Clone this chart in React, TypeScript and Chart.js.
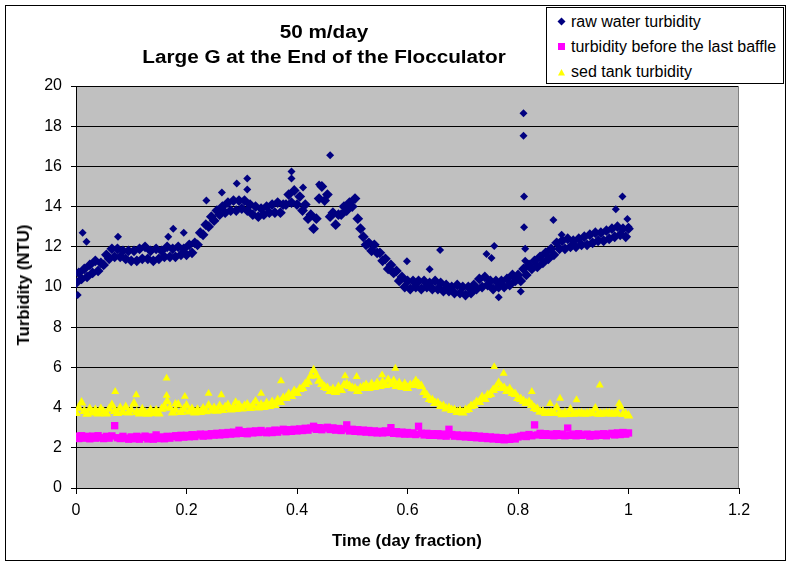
import React, { useEffect, useRef } from "react";
import { Chart, registerables } from "chart.js";

Chart.register(...registerables);

// time axis (day fraction), one reading every 0.005 day
const times: number[] = [
  0, 0.005, 0.01, 0.015, 0.02, 0.025, 0.03, 0.035, 0.04, 0.045,
  0.05, 0.055, 0.06, 0.065, 0.07, 0.075, 0.08, 0.085, 0.09, 0.095,
  0.1, 0.105, 0.11, 0.115, 0.12, 0.125, 0.13, 0.135, 0.14, 0.145,
  0.15, 0.155, 0.16, 0.165, 0.17, 0.175, 0.18, 0.185, 0.19, 0.195,
  0.2, 0.205, 0.21, 0.215, 0.22, 0.225, 0.23, 0.235, 0.24, 0.245,
  0.25, 0.255, 0.26, 0.265, 0.27, 0.275, 0.28, 0.285, 0.29, 0.295,
  0.3, 0.305, 0.31, 0.315, 0.32, 0.325, 0.33, 0.335, 0.34, 0.345,
  0.35, 0.355, 0.36, 0.365, 0.37, 0.375, 0.38, 0.385, 0.39, 0.395,
  0.4, 0.405, 0.41, 0.415, 0.42, 0.425, 0.43, 0.435, 0.44, 0.445,
  0.45, 0.455, 0.46, 0.465, 0.47, 0.475, 0.48, 0.485, 0.49, 0.495,
  0.5, 0.505, 0.51, 0.515, 0.52, 0.525, 0.53, 0.535, 0.54, 0.545,
  0.55, 0.555, 0.56, 0.565, 0.57, 0.575, 0.58, 0.585, 0.59, 0.595,
  0.6, 0.605, 0.61, 0.615, 0.62, 0.625, 0.63, 0.635, 0.64, 0.645,
  0.65, 0.655, 0.66, 0.665, 0.67, 0.675, 0.68, 0.685, 0.69, 0.695,
  0.7, 0.705, 0.71, 0.715, 0.72, 0.725, 0.73, 0.735, 0.74, 0.745,
  0.75, 0.755, 0.76, 0.765, 0.77, 0.775, 0.78, 0.785, 0.79, 0.795,
  0.8, 0.805, 0.81, 0.815, 0.82, 0.825, 0.83, 0.835, 0.84, 0.845,
  0.85, 0.855, 0.86, 0.865, 0.87, 0.875, 0.88, 0.885, 0.89, 0.895,
  0.9, 0.905, 0.91, 0.915, 0.92, 0.925, 0.93, 0.935, 0.94, 0.945,
  0.95, 0.955, 0.96, 0.965, 0.97, 0.975, 0.98, 0.985, 0.99, 0.995,
  1,
];

// raw water turbidity (NTU)
const rawTurbidity: number[] = [
  10.2, 10.7, 10.4, 10.9, 10.5, 11.1, 10.7, 11.3, 10.8, 11.2,
  11.1, 11.6, 11.4, 11.9, 11.5, 11.9, 11.5, 11.8, 11.4, 11.8,
  11.3, 11.8, 11.3, 11.9, 11.4, 12.0, 11.4, 11.8, 11.3, 11.9,
  11.4, 11.8, 11.5, 12.0, 11.5, 11.9, 11.5, 12.0, 11.6, 11.9,
  11.6, 12.1, 11.7, 12.2, 12.1, 12.7, 12.6, 13.1, 13.0, 13.5,
  13.3, 13.8, 13.6, 14.0, 13.7, 14.2, 13.8, 14.3, 13.8, 14.3,
  13.9, 14.3, 13.8, 14.1, 13.6, 14.0, 13.5, 13.9, 13.6, 14.0,
  13.7, 14.1, 13.7, 14.2, 13.7, 14.1, 14.1, 14.6, 14.2, 14.8,
  14.1, 14.5, 13.8, 14.1, 13.4, 13.6, 12.9, 13.4, 14.4, 15.0,
  14.3, 14.6, 13.5, 13.7, 13.1, 13.6, 13.6, 14.0, 13.8, 14.2,
  14.0, 14.4, 13.4, 12.9, 12.5, 12.1, 12.2, 11.8, 12.1, 11.7,
  11.7, 11.3, 11.4, 10.9, 11.1, 10.7, 10.8, 10.3, 10.5, 10.0,
  10.3, 9.9, 10.3, 10.0, 10.3, 9.9, 10.3, 10.0, 10.2, 9.9,
  10.3, 9.9, 10.2, 9.8, 10.1, 9.8, 10.0, 9.7, 10.1, 9.7,
  10.0, 9.6, 10.0, 9.7, 10.1, 9.9, 10.4, 10.0, 10.5, 10.1,
  10.3, 9.9, 10.3, 10.0, 10.3, 10.0, 10.4, 10.1, 10.6, 10.3,
  10.6, 10.3, 10.9, 10.6, 11.1, 10.9, 11.3, 11.0, 11.5, 11.2,
  11.7, 11.4, 11.9, 11.6, 12.2, 11.9, 12.3, 11.9, 12.4, 12.0,
  12.3, 12.0, 12.4, 12.1, 12.5, 12.1, 12.6, 12.2, 12.7, 12.3,
  12.7, 12.3, 12.8, 12.4, 12.9, 12.5, 13.0, 12.6, 12.9, 12.5,
  12.9,
];

// turbidity before the last baffle (NTU)
const baffleTurbidity: number[] = [
  2.58, 2.46, 2.6, 2.48, 2.57, 2.45, 2.58, 2.48, 2.6, 2.5,
  2.46, 2.57, 2.48, 2.59, 3.1, 2.5, 2.46, 2.57, 2.48, 2.43,
  2.54, 2.45, 2.57, 2.43, 2.52, 2.58, 2.44, 2.54, 2.43, 2.64,
  2.46, 2.54, 2.45, 2.57, 2.48, 2.56, 2.6, 2.5, 2.62, 2.53,
  2.62, 2.55, 2.65, 2.56, 2.64, 2.68, 2.58, 2.67, 2.6, 2.7,
  2.63, 2.72, 2.64, 2.74, 2.66, 2.76, 2.68, 2.78, 2.7, 2.87,
  2.72, 2.8, 2.7, 2.82, 2.74, 2.84, 2.76, 2.86, 2.78, 2.75,
  2.84, 2.76, 2.88, 2.78, 2.86, 2.92, 2.8, 2.9, 2.82, 2.92,
  2.84, 2.94, 2.86, 2.97, 2.88, 2.98, 3.07, 2.92, 3.0, 2.9,
  2.98, 3.02, 2.91, 2.99, 2.88, 2.96, 2.86, 2.94, 3.14, 2.84,
  2.92, 2.82, 2.9, 2.8, 2.88, 2.78, 2.86, 2.76, 2.84, 2.74,
  2.82, 2.74, 2.84, 2.76, 3.0, 2.72, 2.8, 2.7, 2.78, 2.68,
  2.76, 2.68, 2.74, 2.66, 3.07, 2.72, 2.64, 2.72, 2.62, 2.7,
  2.62, 2.7, 2.6, 2.68, 2.58, 2.92, 2.66, 2.58, 2.64, 2.56,
  2.62, 2.54, 2.62, 2.52, 2.6, 2.5, 2.58, 2.48, 2.56, 2.46,
  2.54, 2.44, 2.52, 2.42, 2.5, 2.4, 2.48, 2.42, 2.52, 2.44,
  2.54, 2.58, 2.62, 2.56, 2.66, 2.6, 3.14, 2.64, 2.72, 2.62,
  2.7, 2.62, 2.68, 2.6, 2.7, 2.62, 2.68, 2.6, 2.98, 2.62,
  2.68, 2.6, 2.7, 2.62, 2.64, 2.68, 2.58, 2.66, 2.6, 2.68,
  2.62, 2.7, 2.6, 2.68, 2.72, 2.64, 2.74, 2.66, 2.76, 2.68,
  2.74,
];

// sed tank turbidity (NTU)
const sedTurbidity: number[] = [
  3.72, 3.98, 4.25, 3.82, 3.68, 3.93, 3.75, 3.88, 3.7, 3.93,
  3.78, 3.7, 3.93, 4.12, 3.82, 3.72, 3.98, 3.77, 4.02, 3.75,
  3.88, 4.2, 3.77, 3.7, 3.91, 3.75, 3.68, 3.88, 3.72, 3.85,
  3.7, 3.93, 4.05, 4.3, 3.98, 3.75, 3.88, 4.15, 3.77, 3.91,
  4.1, 3.79, 3.93, 3.75, 3.89, 3.77, 3.95, 3.81, 4.1, 3.85,
  3.98, 3.83, 4.07, 3.87, 4.01, 4.12, 3.89, 4.03, 3.92, 4.12,
  3.95, 4.08, 4.15, 3.97, 4.1, 4.3, 3.99, 4.14, 4.02, 4.22,
  4.07, 4.27, 4.12, 4.37, 4.27, 4.47, 4.47, 4.67, 4.57, 4.82,
  4.72, 4.92, 4.97, 5.17, 5.27, 5.57, 5.85, 5.6, 5.32, 5.17,
  5.02, 4.97, 4.82, 4.92, 4.77, 5.02, 4.87, 5.12, 5.17, 5.07,
  4.97, 4.94, 4.82, 4.97, 5.02, 5.12, 4.97, 5.17, 5.02, 5.22,
  5.07, 5.27, 5.12, 5.37, 5.17, 5.32, 5.07, 5.22, 5.02, 5.17,
  4.97, 5.12, 5.12, 5.32, 5.17, 5.07, 4.77, 4.62, 4.42, 4.37,
  4.22, 4.22, 4.07, 4.07, 3.95, 3.97, 3.87, 3.87, 3.77, 3.84,
  3.75, 3.87, 3.92, 4.07, 4.12, 4.27, 4.27, 4.52, 4.42, 4.62,
  4.67, 4.87, 4.97, 5.22, 5.02, 4.97, 4.82, 4.92, 4.72, 4.67,
  4.47, 4.42, 4.32, 4.22, 4.27, 4.12, 3.97, 3.92, 3.79, 3.8,
  3.72, 3.72, 3.75, 3.74, 4.0, 3.72, 3.66, 3.74, 3.67, 3.9,
  3.69, 3.7, 3.72, 3.72, 3.69, 3.7, 3.72, 3.74, 3.95, 3.68,
  3.69, 3.7, 3.72, 3.72, 3.69, 3.7, 3.72, 4.05, 3.67, 3.68,
  3.6,
];

// stray readings off the main bands
const rawOutlierTimes: number[] = [
  0.003, 0.012, 0.019, 0.076, 0.167, 0.176, 0.195, 0.236, 0.264, 0.291,
  0.31, 0.31, 0.39, 0.39, 0.411, 0.46, 0.44, 0.599, 0.64, 0.659,
  0.743, 0.752, 0.757, 0.765, 0.805, 0.81, 0.81, 0.811, 0.811, 0.813,
  0.813, 0.864, 0.879, 0.977, 0.989, 0.998, 1.0,
];
const rawOutlierValues: number[] = [
  9.6, 12.7, 12.25, 12.5, 12.5, 12.9, 12.7, 14.3, 14.7, 15.15,
  15.4, 14.85, 15.75, 15.4, 14.95, 16.55, 15.1, 11.28, 10.88, 11.84,
  11.64, 11.44, 12.04, 9.49, 9.77, 18.64, 17.53, 14.5, 12.97, 11.9,
  11.3, 13.33, 12.6, 13.87, 14.5, 13.38, 13.0,
];
const sedOutlierTimes: number[] = [
  0.071, 0.109, 0.164, 0.164, 0.18, 0.197, 0.24, 0.263, 0.289, 0.335,
  0.371, 0.487, 0.508, 0.554, 0.578, 0.757, 0.774, 0.825, 0.858, 0.876,
  0.906, 0.948, 0.983,
];
const sedOutlierValues: number[] = [
  4.79, 4.63, 5.46, 4.6, 4.2, 4.55, 4.7, 4.63, 4.29, 4.7,
  5.32, 5.57, 5.54, 5.62, 5.95, 6.03, 5.7, 4.79, 4.2, 4.46,
  4.38, 5.12, 4.2,
];

const xTicks: number[] = [0, 0.2, 0.4, 0.6, 0.8, 1, 1.2];

const FONT = "'Liberation Sans', Arial, sans-serif";

const plotFrame = {
  id: "plotFrame",
  beforeDraw(chart: Chart) {
    const { ctx, chartArea } = chart;
    ctx.save();
    ctx.fillStyle = "#c0c0c0";
    ctx.fillRect(chartArea.left, chartArea.top, chartArea.right - chartArea.left, chartArea.bottom - chartArea.top);
    ctx.restore();
  },
  beforeDatasetsDraw(chart: Chart) {
    const { ctx, chartArea } = chart;
    ctx.save();
    ctx.strokeStyle = "#808080";
    ctx.lineWidth = 1;
    ctx.beginPath();
    ctx.moveTo(chartArea.right - 0.5, chartArea.top);
    ctx.lineTo(chartArea.right - 0.5, chartArea.bottom);
    ctx.stroke();
    ctx.restore();
  },
};

const toPoints = (xs: number[], ys: number[]) => xs.map((x, i) => ({ x, y: ys[i] }));

// band readings are drawn a little larger than the stray ones so they merge like the dense original
const bandRadius = (band: number, stray: number) => (c: any) => (c.dataIndex < times.length ? band : stray);

const App: React.FC = () => {
  const canvasRef = useRef<HTMLCanvasElement>(null);

  useEffect(() => {
    if (!canvasRef.current) return;

    const chart = new Chart(canvasRef.current, {
      type: "scatter",
      data: {
        datasets: [
          {
            label: "raw water turbidity",
            data: [...toPoints(times, rawTurbidity), ...toPoints(rawOutlierTimes, rawOutlierValues)],
            pointStyle: "rectRot",
            pointRadius: bandRadius(5.4, 4),
            pointBackgroundColor: "#000080",
            pointBorderColor: "#000080",
            pointBorderWidth: 0,
            order: 3,
          },
          {
            label: "turbidity before the last baffle",
            data: toPoints(times, baffleTurbidity),
            pointStyle: "rect",
            pointRadius: 5.2,
            pointBackgroundColor: "#ff00ff",
            pointBorderColor: "#ff00ff",
            pointBorderWidth: 0,
            order: 2,
          },
          {
            label: "sed tank turbidity",
            data: [...toPoints(times, sedTurbidity), ...toPoints(sedOutlierTimes, sedOutlierValues)],
            pointStyle: "triangle",
            pointRadius: bandRadius(5.6, 4.6),
            pointBackgroundColor: "#ffff00",
            pointBorderColor: "#ffff00",
            pointBorderWidth: 0,
            order: 1,
          },
        ],
      },
      options: {
        responsive: false,
        animation: false,
        events: [],
        layout: { padding: { left: 0, top: 86, right: 53, bottom: 0 } },
        plugins: {
          legend: { display: false },
          tooltip: { enabled: false },
        },
        scales: {
          x: {
            type: "linear",
            min: 0,
            max: 1.2,
            afterFit: (scale: any) => {
              scale.height = 78;
            },
            afterBuildTicks: (scale: any) => {
              scale.ticks = xTicks.map((v) => ({ value: v }));
            },
            ticks: {
              color: "#000",
              font: { family: FONT, size: 16 },
              padding: 7,
              maxRotation: 0,
              callback: (v: any) => String(Math.round(Number(v) * 10) / 10),
            },
            grid: {
              drawOnChartArea: false,
              drawTicks: true,
              tickLength: 6,
              color: "#000",
            },
            border: { display: true, color: "#000", width: 1 },
          },
          y: {
            min: 0,
            max: 20,
            afterFit: (scale: any) => {
              scale.width = 76;
            },
            ticks: {
              stepSize: 2,
              color: "#000",
              font: { family: FONT, size: 16 },
              padding: 9,
            },
            grid: {
              color: "#000",
              lineWidth: 1,
              tickLength: 5,
            },
            border: { display: true, color: "#000", width: 1 },
          },
        },
      },
      plugins: [plotFrame],
    });

    return () => {
      chart.destroy();
    };
  }, []);

  const legendRow: React.CSSProperties = {
    display: "flex",
    alignItems: "center",
    height: 25,
    whiteSpace: "nowrap",
  };

  return (
    <div
      style={{
        position: "absolute",
        left: 0,
        top: 0,
        width: 792,
        height: 566,
        background: "#fff",
        fontFamily: FONT,
        color: "#000",
        overflow: "hidden",
      }}
    >
      <div
        style={{
          position: "absolute",
          left: 5,
          top: 5,
          width: 781,
          height: 556,
          border: "1px solid #000",
          boxSizing: "border-box",
        }}
      />
      <canvas ref={canvasRef} width={792} height={566} style={{ position: "absolute", left: 0, top: 0 }} />

      {/* title */}
      <div
        style={{
          position: "absolute",
          left: 324,
          top: 20,
          transform: "translateX(-50%) scaleX(1.15)",
          textAlign: "center",
          fontWeight: "bold",
          fontSize: 18,
          lineHeight: "25px",
          whiteSpace: "nowrap",
        }}
      >
        <div>50 m/day</div>
        <div>Large G at the End of the Flocculator</div>
      </div>

      {/* axis titles */}
      <div
        style={{
          position: "absolute",
          left: 407,
          top: 541,
          transform: "translate(-50%, -50%)",
          fontWeight: "bold",
          fontSize: 16.8,
          whiteSpace: "nowrap",
        }}
      >
        Time (day fraction)
      </div>
      <div
        style={{
          position: "absolute",
          left: 24,
          top: 285,
          transform: "translate(-50%, -50%) rotate(-90deg)",
          fontWeight: "bold",
          fontSize: 16.8,
          whiteSpace: "nowrap",
        }}
      >
        Turbidity (NTU)
      </div>

      {/* legend */}
      <div
        style={{
          position: "absolute",
          left: 546,
          top: 7,
          width: 238,
          height: 77,
          border: "1px solid #000",
          boxSizing: "border-box",
          background: "#fff",
          padding: "1px 0 0 10px",
          fontSize: 16,
        }}
      >
        <div style={legendRow}>
          <svg width="9" height="9" style={{ marginRight: 5 }}>
            <polygon points="4.5,0.5 8.5,4.5 4.5,8.5 0.5,4.5" fill="#000080" />
          </svg>
          raw water turbidity
        </div>
        <div style={legendRow}>
          <svg width="9" height="9" style={{ marginRight: 5 }}>
            <rect x="1" y="1" width="7" height="7" fill="#ff00ff" />
          </svg>
          turbidity before the last baffle
        </div>
        <div style={legendRow}>
          <svg width="9" height="9" style={{ marginRight: 5 }}>
            <polygon points="4.5,2 8,8.5 1,8.5" fill="#ffff00" />
          </svg>
          sed tank turbidity
        </div>
      </div>
    </div>
  );
};

export default App;
